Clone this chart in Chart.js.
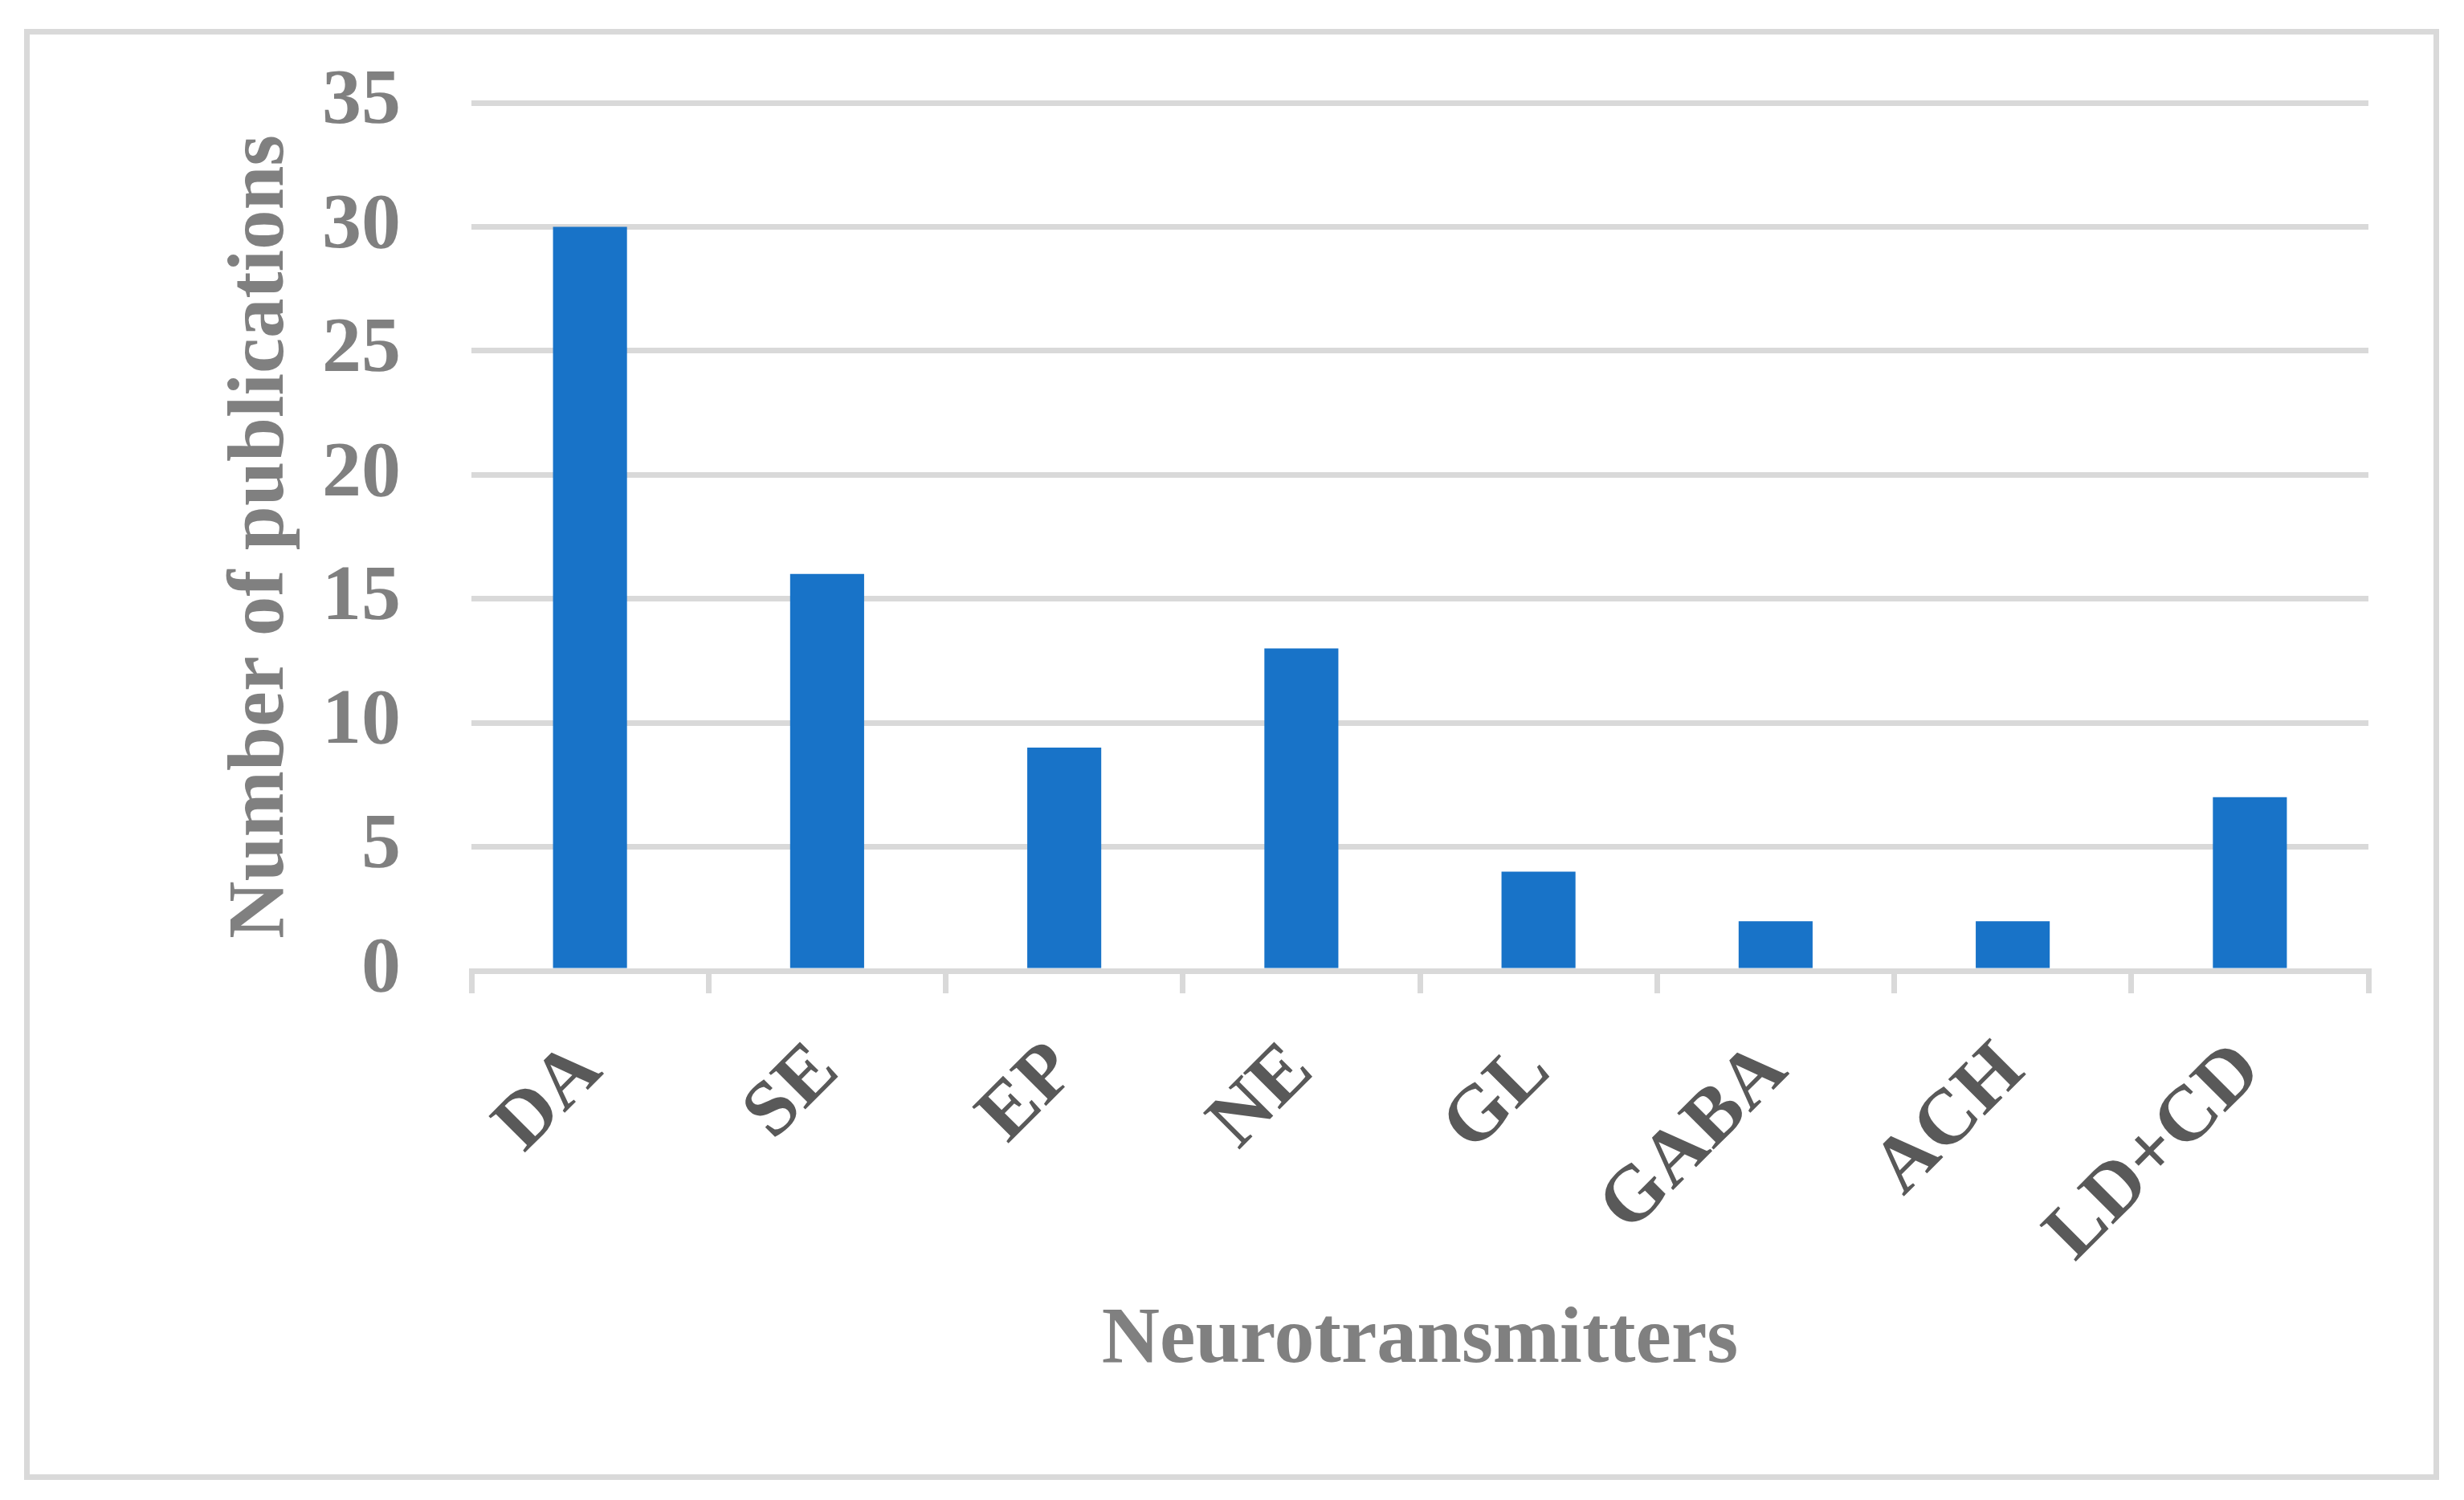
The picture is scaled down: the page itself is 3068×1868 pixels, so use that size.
<!DOCTYPE html>
<html>
<head>
<meta charset="utf-8">
<title>Neurotransmitters</title>
<script src="https://cdn.jsdelivr.net/npm/chart.js@4.4.1/dist/chart.umd.min.js"></script>
<style>
  html, body { margin: 0; padding: 0; background: #ffffff; }
  canvas { display: block; }
</style>
</head>
<body>
<canvas id="pubChart" width="3068" height="1868"></canvas>
<script>
const categories = ['DA', 'SE', 'EP', 'NE', 'GL', 'GABA', 'ACH', 'LD+CD'];
const publications = [30, 16, 9, 13, 4, 2, 2, 7];
const yTicks = [0, 5, 10, 15, 20, 25, 30, 35];

const SERIF = '"Liberation Serif", "Times New Roman", serif';
const LINE_GREY = '#d9d9d9';

// outer frame around the whole figure
const framePlugin = {
    id: 'frame',
    beforeDraw(chart) {
        const ctx = chart.ctx;
        ctx.save();
        ctx.fillStyle = '#ffffff';
        ctx.fillRect(0, 0, chart.width, chart.height);
        ctx.strokeStyle = LINE_GREY;
        ctx.lineWidth = 7;
        ctx.strokeRect(33.5, 39.5, 3000, 1800);
        ctx.restore();
    }
};

const ctx = document.getElementById('pubChart').getContext('2d');

new Chart(ctx, {
    type: 'bar',
    data: {
        labels: categories,
        datasets: [{
            label: 'Number of publications',
            data: publications,
            backgroundColor: '#1873c8',
            borderWidth: 0,
            barPercentage: 0.312,
            categoryPercentage: 1
        }]
    },
    options: {
        responsive: false,
        devicePixelRatio: 1,
        animation: false,
        layout: {
            padding: { left: 267, right: 119, top: 128, bottom: 138 }
        },
        plugins: {
            legend: { display: false },
            tooltip: { enabled: false }
        },
        scales: {
            x: {
                afterFit: (scale) => { scale.height = 521; },
                grid: {
                    display: true,
                    drawOnChartArea: false,
                    drawTicks: true,
                    tickLength: 28,
                    color: LINE_GREY,
                    lineWidth: 7,
                    offset: true
                },
                border: { display: true, color: LINE_GREY, width: 7 },
                ticks: {
                    autoSkip: false,
                    minRotation: 45,
                    maxRotation: 45,
                    padding: 40,
                    color: '#595959',
                    font: { family: SERIF, size: 98, weight: 'bold' }
                },
                title: {
                    display: true,
                    text: 'Neurotransmitters',
                    color: '#808080',
                    padding: { top: 0, bottom: 0 },
                    font: { family: SERIF, size: 100, weight: 'bold', lineHeight: 1.2 }
                }
            },
            y: {
                min: 0,
                max: 35,
                afterFit: (scale) => { scale.width = 320; },
                afterBuildTicks: (scale) => {
                    scale.ticks = yTicks.map(v => ({ value: v }));
                },
                grid: {
                    color: LINE_GREY,
                    lineWidth: 7,
                    // invisible tick marks just push the labels away from the plot
                    drawTicks: true,
                    tickLength: 80,
                    tickColor: 'rgba(0,0,0,0)'
                },
                border: { display: false },
                ticks: {
                    padding: 8,
                    color: '#808080',
                    font: { family: SERIF, size: 98, weight: 'bold' }
                },
                title: {
                    display: true,
                    text: 'Number of publications',
                    color: '#808080',
                    padding: { top: 0, bottom: 0 },
                    font: { family: SERIF, size: 99, weight: 'bold', lineHeight: 1.2 }
                }
            }
        }
    },
    plugins: [framePlugin]
});
</script>
</body>
</html>
